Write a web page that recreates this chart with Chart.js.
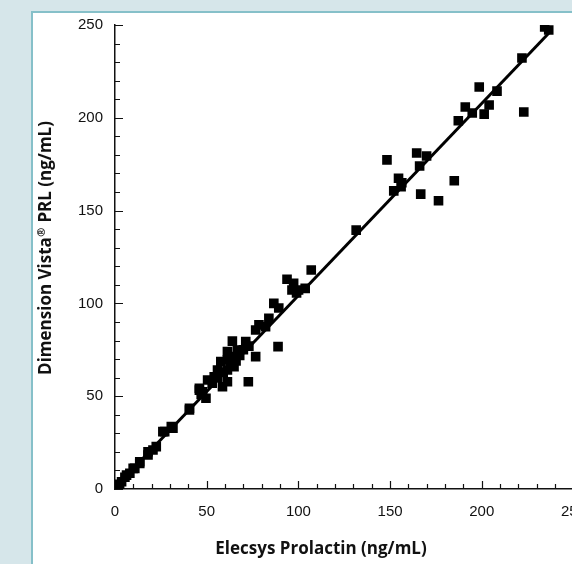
<!DOCTYPE html>
<html>
<head>
<meta charset="utf-8">
<script src="https://cdn.jsdelivr.net/npm/chart.js@4"></script>
<style>
  html, body { margin: 0; padding: 0; width: 572px; height: 564px; overflow: hidden; background: #d6e6ea; }
  .panel { position: absolute; left: 31px; top: 11px; width: 560px; height: 570px; background: #fff;
           border-left: 2px solid #86c0c9; border-top: 2px solid #86c0c9; }
  .wrap { position: absolute; left: 0; top: 0; width: 600px; height: 564px; }
</style>
</head>
<body>
<div class="panel"></div>
<div class="wrap"><canvas id="c"></canvas></div>
<script>
// method comparison: Elecsys (x) vs Dimension Vista (y)
const ELECSYS = [1.8, 2.5, 3.6, 5.4, 6.3, 8.1, 9.9, 10.8, 13.5, 13.5, 18, 18, 20.7, 22.5, 26.1, 27.1, 30.7, 31.6,
  40.6, 40.6, 46, 46, 47.8, 49.6, 47, 50.5, 53, 54.1, 56, 55.9, 57.7, 58.6, 59, 61.3, 61.3, 61.3, 61.3, 63, 64.9, 64.9,
  66, 66.7, 68, 64, 70, 71.3, 72.7, 73, 76.7, 76.7, 78.5, 82.1, 83.9, 86.6, 88.9, 89.3, 93.8, 96.5, 97.4, 99, 100.1,
  103.7, 107, 131.5, 148.3, 152, 154.6, 156, 156.4, 164.5, 166.1, 166.7, 169.9, 176.4, 185, 187.2, 191, 194.8, 198.6,
  201.3, 204, 208.3, 221.9, 222.9, 234.3, 236.5];
const VISTA = [1.2, 2.5, 3.9, 6.3, 7.5, 8.5, 11.1, 11.1, 13.8, 14.7, 18.3, 20.1, 21, 22.8, 30.9, 30.9, 33.6, 32.7,
  42.6, 43.5, 53.3, 54.3, 52.4, 48.9, 51, 58.7, 57, 60.5, 60, 64.1, 68.6, 55.1, 63, 57.8, 64.1, 69.5, 74, 67, 65.9, 71.3,
  69, 74.9, 72, 79.7, 75, 79.4, 57.8, 77, 71.3, 85.7, 88.4, 87.4, 92, 100, 76.7, 97.5, 113, 107.2, 110.8, 105.6, 107.2,
  108.1, 118, 139.5, 177.3, 160.6, 167.4, 162.9, 165, 181, 174, 158.9, 179.4, 155.3, 166.1, 198.4, 205.8, 202.6, 216.6,
  202, 206.9, 214.4, 232.2, 203.1, 248.9, 247.3];
// regression line ends
const FIT_X = [1.5, 236.5];
const FIT_Y = [2.3, 245.6];
const X_TICKS = [0, 50, 100, 150, 200, 250];
const Y_TICKS = [0, 50, 100, 150, 200, 250];
const X_TITLE = 'Elecsys Prolactin (ng/mL)';
const Y_TITLE = ['Dimension Vista', '\u00AE', ' PRL (ng/mL)']; // middle part is superscript

const tickFont = {family: '"Liberation Sans", Arial, sans-serif', size: 15};
const titleFont = 'bold 17px "Open Sans", sans-serif';
const supFont = 'bold 11px "Open Sans", sans-serif';

// inward minor/major ticks + axis titles
const decor = {
  id: 'decor',
  beforeDatasetsDraw(chart){
    const {ctx, scales:{x, y}} = chart;
    ctx.save();
    ctx.strokeStyle = '#111';
    ctx.lineWidth = 1.2;
    ctx.beginPath();
    for(let v = 0; v <= 250; v += 10){
      const len = v % 50 === 0 ? 8 : 5;
      const py = Math.round(y.getPixelForValue(v)) + 0.5;
      ctx.moveTo(x.left, py); ctx.lineTo(x.left + len, py);
      const px = Math.round(x.getPixelForValue(v)) + 0.5;
      ctx.moveTo(px, y.bottom); ctx.lineTo(px, y.bottom - len);
    }
    ctx.stroke();
    ctx.restore();
  },
  afterDraw(chart){
    const {ctx} = chart;
    ctx.save();
    ctx.fillStyle = '#111';
    ctx.font = titleFont;
    ctx.textAlign = 'center';
    ctx.textBaseline = 'middle';
    ctx.fillText(X_TITLE, 321, 549);

    // y title with superscript ®
    ctx.textAlign = 'left';
    ctx.textBaseline = 'alphabetic';
    ctx.font = titleFont;
    const w0 = ctx.measureText(Y_TITLE[0]).width;
    const w2 = ctx.measureText(Y_TITLE[2]).width;
    ctx.font = supFont;
    const w1 = ctx.measureText(Y_TITLE[1]).width + 1;
    const total = w0 + w1 + w2;
    ctx.translate(51, 248);
    ctx.rotate(-Math.PI / 2);
    let cx = -total / 2;
    ctx.font = titleFont;
    ctx.fillText(Y_TITLE[0], cx, 0); cx += w0;
    ctx.font = supFont;
    ctx.fillText(Y_TITLE[1], cx + 0.5, -6); cx += w1;
    ctx.font = titleFont;
    ctx.fillText(Y_TITLE[2], cx, 0);
    ctx.restore();
  }
};

new Chart(document.getElementById('c'), {
  type: 'scatter',
  data: {
    datasets: [
      {
        data: ELECSYS.map((v, i) => ({x: v, y: VISTA[i]})),
        pointStyle: 'rect', pointRadius: 6.8, borderWidth: 0,
        backgroundColor: '#000', borderColor: '#000'
      },
      {
        type: 'line',
        data: FIT_X.map((v, i) => ({x: v, y: FIT_Y[i]})),
        borderColor: '#000', borderWidth: 3, pointRadius: 0, fill: false
      }
    ]
  },
  options: {
    responsive: true, maintainAspectRatio: false, animation: false,
    layout: {padding: {left: 0, top: 25, right: 23, bottom: 0}},
    plugins: {legend: {display: false}, tooltip: {enabled: false}},
    scales: {
      x: {
        type: 'linear', min: 0, max: 250,
        afterBuildTicks: s => { s.ticks = X_TICKS.map(v => ({value: v})); },
        grid: {display: false, drawTicks: false},
        border: {display: true, color: '#111', width: 1.5},
        ticks: {padding: 14, font: tickFont, color: '#111', maxRotation: 0},
        afterFit: s => { s.height = 75; }
      },
      y: {
        type: 'linear', min: 0, max: 250,
        afterBuildTicks: s => { s.ticks = Y_TICKS.map(v => ({value: v})); },
        grid: {display: false, drawTicks: false},
        border: {display: true, color: '#111', width: 1.5},
        ticks: {padding: 12, font: tickFont, color: '#111'},
        afterFit: s => { s.width = 115; }
      }
    }
  },
  plugins: [decor]
});
</script>
</body>
</html>
